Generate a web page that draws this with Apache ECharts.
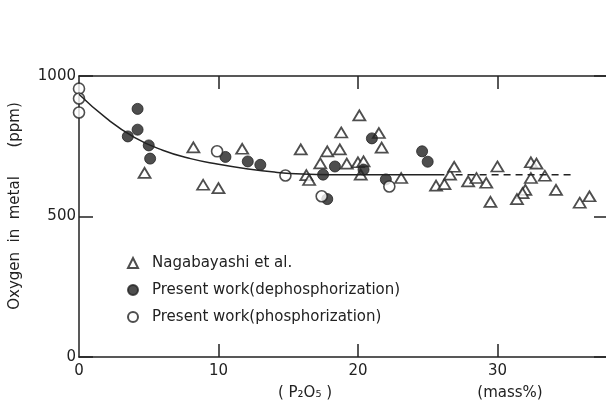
<!DOCTYPE html>
<html>
<head>
<meta charset="utf-8">
<script src="https://cdn.jsdelivr.net/npm/echarts@6/dist/echarts.min.js"></script>
<style>
html,body{margin:0;padding:0;background:#fff;}
#chart{width:606px;height:406px;}
</style>
</head>
<body>
<div id="chart"></div>
<script>
// data: [P2O5 mass%, O ppm]
var nagabayashi = [[4.7,655],[8.2,746],[8.9,613],[10.0,601],[11.7,741],[15.9,739],[16.3,647],[16.5,630],
    [17.3,689],[17.8,732],[18.7,739],[18.8,799],[19.2,688],[20.1,860],[20.0,693],[20.4,696],[20.2,649],
    [21.5,797],[21.7,745],[23.1,637],[25.6,610],[26.2,615],[26.6,649],[26.9,677],[27.9,625],[28.5,637],
    [29.2,620],[30.0,678],[29.5,552],[32.4,693],[32.8,688],[32.4,637],[32.0,595],[31.8,583],[31.4,562],
    [33.4,645],[34.2,595],[35.9,549],[36.6,572]];
var dephos = [[4.2,883],[4.2,809],[3.5,785],[5.0,753],[5.1,706],[10.5,712],[12.1,696],[13.0,684],
    [17.5,649],[17.8,562],[18.35,678],[20.4,667],[21.0,778],[22.0,632],[24.6,732],[25.0,695]];
var phos = [[0,955],[0,920],[0,870],[9.9,732],[14.8,646],[17.4,572],[22.25,607]];
// fitted curve, solid part and dashed extension
var curveSolid = [[0,935],[2,848],[4,781],[6,736],[8,706],[10,686],[12,670],[14,658],[16,651],[18,649],[26.2,649]];
var curveDash = [[27.0,649],[35.5,649]];
var xTicks = [0,10,20,30];
var legendNames = ['Nagabayashi et al.','Present work(dephosphorization)','Present work(phosphorization)'];

var ink = '#222';
var font = 'DejaVu Sans';

var chart = echarts.init(document.getElementById('chart'));
var option = {
    backgroundColor: '#fff',
    animation: false,
    // right frame sits just outside the picture, like the cropped scan
    grid: {left: 79, right: -3, top: 76, bottom: 49, outerBoundsMode: 'none'},
    legend: {
        orient: 'vertical',
        left: 122, top: 250,
        itemWidth: 10, itemHeight: 10,
        itemGap: 11,
        data: [
            {name: legendNames[0], icon: 'triangle'},
            {name: legendNames[1], icon: 'circle'},
            {name: legendNames[2], icon: 'circle'}
        ],
        textStyle: {color: ink, fontFamily: font, fontSize: 15, lineHeight: 16, padding: [0,0,0,9]}
    },
    xAxis: [{
        type: 'value', position: 'bottom',
        min: 0, max: 38,
        axisLine: {onZero: false, lineStyle: {color: ink, width: 1.5}},
        axisTick: {inside: true, length: 13, customValues: [10,20,30], lineStyle: {color: ink, width: 1.5}},
        axisLabel: {customValues: xTicks, margin: 7, color: ink, fontFamily: font, fontSize: 15},
        splitLine: {show: false}
    }, {
        type: 'value', position: 'top',
        min: 0, max: 38,
        axisLine: {onZero: false, lineStyle: {color: ink, width: 1.5}},
        axisTick: {inside: true, length: 13, customValues: [10,20,30], lineStyle: {color: ink, width: 1.5}},
        axisLabel: {show: false},
        splitLine: {show: false}
    }],
    yAxis: [{
        type: 'value', position: 'left',
        min: 0, max: 1000, interval: 500,
        axisLine: {show: true, onZero: false, lineStyle: {color: ink, width: 1.5}},
        axisTick: {inside: true, length: 14, lineStyle: {color: ink, width: 1.5}},
        axisLabel: {margin: 3, color: ink, fontFamily: font, fontSize: 15,
            formatter: function (v) { return String(v); }},
        splitLine: {show: false}
    }, {
        type: 'value', position: 'right',
        min: 0, max: 1000, interval: 500,
        axisLine: {show: true, onZero: false, lineStyle: {color: ink, width: 1.5}},
        axisTick: {inside: true, length: 15, lineStyle: {color: ink, width: 1.5}},
        axisLabel: {show: false},
        splitLine: {show: false}
    }],
    graphic: [{
        type: 'text', x: 15, y: 206, rotation: Math.PI / 2,
        style: {text: 'Oxygen  in  metal      (ppm)', fill: ink, font: '15px "DejaVu Sans"',
            align: 'center', verticalAlign: 'middle'}
    }, {
        type: 'text', x: 305, y: 393,
        style: {text: '( P₂O₅ )', fill: ink, font: '15px "DejaVu Sans"', align: 'center', verticalAlign: 'middle'}
    }, {
        type: 'text', x: 510, y: 393,
        style: {text: '(mass%)', fill: ink, font: '15px "DejaVu Sans"', align: 'center', verticalAlign: 'middle'}
    }],
    series: [{
        type: 'line', data: curveSolid, smooth: 0.5,
        symbol: 'none', silent: true,
        lineStyle: {color: ink, width: 1.5}
    }, {
        type: 'line', data: curveDash, symbol: 'none', silent: true,
        lineStyle: {color: ink, width: 1.5, type: [7,5]}
    }, {
        name: legendNames[0], type: 'scatter', data: nagabayashi,
        symbol: 'triangle', symbolSize: [12,10],
        itemStyle: {color: '#fff', borderColor: ink, borderWidth: 1.8}
    }, {
        name: legendNames[1], type: 'scatter', data: dephos,
        symbol: 'circle', symbolSize: 11,
        itemStyle: {color: ink, borderColor: ink, borderWidth: 1}
    }, {
        name: legendNames[2], type: 'scatter', data: phos,
        symbol: 'circle', symbolSize: 11,
        itemStyle: {color: '#fff', borderColor: ink, borderWidth: 1.6}
    }]
};
chart.setOption(option);
</script>
</body>
</html>
